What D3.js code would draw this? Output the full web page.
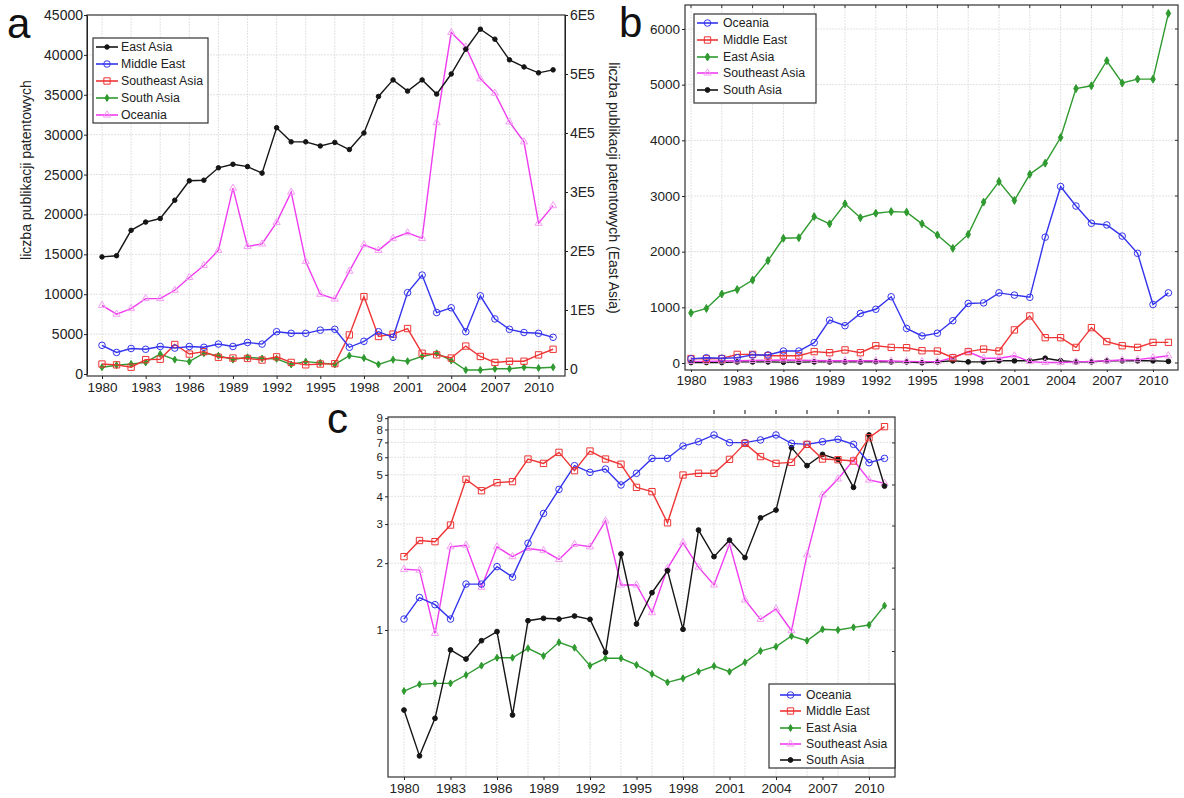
<!DOCTYPE html>
<html><head><meta charset="utf-8">
<script src="https://cdn.jsdelivr.net/npm/d3@7"></script>
<style>body{margin:0;background:#fff} svg text{font-family:"Liberation Sans",Arial,sans-serif}</style>
</head><body><svg id="chart" width="1184" height="798"></svg>
<script>
// ---------- DATA ----------
const years = [1980,1981,1982,1983,1984,1985,1986,1987,1988,1989,1990,1991,1992,1993,1994,1995,
               1996,1997,1998,1999,2000,2001,2002,2003,2004,2005,2006,2007,2008,2009,2010,2011];
const xTickYears = [1980,1983,1986,1989,1992,1995,1998,2001,2004,2007,2010];
const gridYears = [1980,1982,1984,1986,1988,1990,1992,1994,1996,1998,2000,2002,2004,2006,2008,2010];

// panel a (East Asia on the right axis)
const aEastAsia = [190000,192000,235000,249000,255000,286000,319000,320000,341000,347000,343000,332000,
                   409000,385000,385000,378000,384000,372000,400000,462000,490000,471000,490000,466000,
                   500000,542000,576000,559000,524000,512000,502000,507000];
const aMiddleEast = [3600,2700,3200,3100,3450,3250,3450,3350,3750,3450,3950,3750,
                     5300,5100,5100,5500,5600,3350,4100,5300,4600,10200,12400,7700,
                     8300,5300,9800,6900,5600,5200,5100,4600];
const aSoutheastAsia = [1250,1150,850,1800,1850,3700,2500,2800,2100,2000,1950,1750,
                        2150,1450,1150,1250,1300,4900,9700,4700,5000,5700,2600,2400,
                        2000,3500,2200,1450,1600,1600,2400,3100];
const aSouthAsia = [850,1100,1250,1450,2500,1800,1550,2600,2300,1800,2100,1950,
                    1900,1200,1550,1400,1200,2300,2000,1200,1800,1600,2200,2600,
                    1700,500,500,650,650,850,750,850];
const aOceania = [8600,7500,8200,9450,9450,10500,12100,13600,15500,23300,16000,16300,
                  19000,22800,14100,10000,9400,12900,16200,15500,17000,17700,17000,31500,
                  42800,41000,37000,35200,31600,29100,18900,21100];
const aLeftTicks = [0,5000,10000,15000,20000,25000,30000,35000,40000,45000];
const aRightTicks = [0,100000,200000,300000,400000,500000,600000];

// panel b
const bOceania = [75,95,85,95,145,145,215,215,365,770,670,890,965,1190,620,485,
                  535,760,1070,1080,1260,1220,1180,2260,3170,2820,2510,2480,2280,1970,1050,1260];
const bMiddleEast = [80,75,80,155,155,130,130,130,205,185,235,185,310,280,275,220,
                     215,95,205,250,215,595,845,455,455,280,635,385,310,280,370,370];
const bEastAsia = [900,980,1240,1320,1490,1840,2240,2250,2630,2500,2860,2610,2690,2720,2710,2500,
                   2300,2060,2310,2890,3260,2920,3390,3590,4050,4930,4980,5430,5030,5100,5100,6280];
const bSoutheastAsia = [30,30,35,40,45,50,55,50,45,40,40,40,40,35,30,25,
                        25,95,200,85,85,130,25,10,10,20,30,40,55,60,95,130];
const bSouthAsia = [10,10,10,20,20,20,15,15,20,20,20,20,25,20,20,5,
                    20,40,20,20,40,40,40,85,40,20,20,40,40,40,40,30];
const bTicks = [0,1000,2000,3000,4000,5000,6000];

// panel c (log scale)
const cOceania = [1.12,1.40,1.30,1.12,1.61,1.61,1.93,1.73,2.46,3.35,4.30,5.50,5.13,5.31,4.50,5.08,
                  5.93,5.93,6.74,7.05,7.56,6.98,6.98,7.18,7.56,6.93,6.86,7.05,7.23,6.86,5.67,5.93];
const cMiddleEast = [2.14,2.53,2.50,2.97,4.77,4.24,4.61,4.66,5.89,5.63,6.31,5.22,6.40,5.89,5.58,4.39,
                     4.20,3.04,4.99,5.08,5.08,5.87,6.93,6.04,5.63,5.69,6.86,5.89,5.85,5.77,7.35,8.24];
const cEastAsia = [0.531,0.569,0.575,0.575,0.627,0.691,0.750,0.750,0.827,0.764,0.880,0.832,0.691,0.746,0.746,0.696,
                   0.634,0.581,0.606,0.649,0.688,0.649,0.715,0.804,0.841,0.940,0.895,1.007,1.0,1.028,1.053,1.287];
const cSoutheastAsia = [1.877,1.86,0.966,2.37,2.41,1.557,2.37,2.14,2.33,2.28,2.08,2.43,2.37,3.10,1.595,1.595,
                        1.197,1.896,2.47,1.92,1.595,2.44,1.365,1.117,1.243,0.993,2.18,4.06,4.79,5.83,4.74,4.58];
const cSouthAsia = [0.436,0.271,0.400,0.813,0.740,0.895,0.983,0.414,1.101,1.129,1.12,1.156,1.117,0.793,2.20,1.064,
                    1.472,1.85,1.007,2.82,2.14,2.54,2.12,3.20,3.47,6.63,5.50,6.18,5.87,4.39,7.56,4.45];
const cTicks = [1,2,3,4,5,6,7,8,9];
const cRightMinorTicks = [6.96,4.5,2.94,1.9,1.24,0.80,0.52,0.34];
const cTopTickYears = [2000,2002,2004,2006,2008,2010];

// ---------- STYLES ----------
const BLACK="#151515", BLUE="#3434ee", RED="#ee3434", GREEN="#2f9a2f", MAGENTA="#f03cf0";
const svg = d3.select("#chart");
const GRID = "#dadada";

function styleAxis(g, fs){
  g.attr("font-family", null).attr("font-size", null);
  g.selectAll("text").attr("font-size", fs).attr("fill","#222");
  g.select(".domain").attr("stroke","#222");
  g.selectAll(".tick line").attr("stroke","#222");
}
function gridX(g, x, vals, y0, y1){
  g.append("g").selectAll("line").data(vals).join("line")
    .attr("x1",d=>x(d)).attr("x2",d=>x(d)).attr("y1",y0).attr("y2",y1)
    .attr("stroke",GRID).attr("stroke-width",0.8).attr("stroke-dasharray","2,1");
}
function gridY(g, y, vals, x0, x1){
  g.append("g").selectAll("line").data(vals).join("line")
    .attr("y1",d=>y(d)).attr("y2",d=>y(d)).attr("x1",x0).attr("x2",x1)
    .attr("stroke",GRID).attr("stroke-width",0.8).attr("stroke-dasharray","2,1");
}
function drawMarker(sel, st){
  sel.attr("d", d3.symbol().type(st.type).size(st.size))
     .attr("fill", st.filled ? (st.mcolor||st.color) : "none")
     .attr("stroke", st.mcolor||st.color).attr("stroke-width",1);
}
function series(g, vals, x, y, st){
  const line = d3.line().x((d,i)=>x(years[i])).y(d=>y(d));
  g.append("path").datum(vals).attr("d",line).attr("fill","none")
    .attr("stroke",st.color).attr("stroke-width",1.4);
  g.append("g").selectAll("path").data(vals).join("path")
    .attr("transform",(d,i)=>`translate(${x(years[i])},${y(d)})`)
    .call(drawMarker, st);
}
function legend(g, x, y, w, h, rowY, sx0, sx1, tx, fs, items){
  const lg = g.append("g");
  lg.append("rect").attr("x",x).attr("y",y).attr("width",w).attr("height",h)
    .attr("fill","#fff").attr("stroke","#333").attr("stroke-width",1.2);
  items.forEach((it,i)=>{
    const yy = rowY[i];
    lg.append("line").attr("x1",sx0).attr("x2",sx1).attr("y1",yy).attr("y2",yy)
      .attr("stroke",it.st.color).attr("stroke-width",1.6);
    lg.append("path").attr("transform",`translate(${(sx0+sx1)/2},${yy})`).call(drawMarker,it.st);
    lg.append("text").attr("x",tx).attr("y",yy).attr("dy","0.36em")
      .attr("font-size",fs).attr("fill","#222").text(it.name);
  });
}

// ---------- PANEL A ----------
(function(){
  const L=87, R=565, T=15, B=376;
  const g = svg.append("g");
  const x = d3.scaleLinear().domain([1980,2011]).range([102,553.1]);
  const yL = d3.scaleLinear().domain([0,45000]).range([374,15]);
  const yR = d3.scaleLinear().domain([0,600000]).range([369,15]);
  gridX(g, x, gridYears, T, B);
  gridY(g, yL, aLeftTicks.slice(1,-1), L, R);
  g.append("rect").attr("x",L).attr("y",T).attr("width",R-L).attr("height",B-T)
    .attr("fill","none").attr("stroke","#333").attr("stroke-width",1.2);

  const stEA={color:BLACK,type:d3.symbolCircle,size:16,filled:true};
  const stME={color:BLUE,type:d3.symbolCircle,size:34,filled:false};
  const stSEA={color:RED,type:d3.symbolSquare,size:40,filled:false};
  const stSA={color:GREEN,type:d3.symbolDiamond,size:14,filled:true};
  const stOC={color:MAGENTA,mcolor:"#f49ef4",type:d3.symbolTriangle,size:22,filled:false};

  series(g, aOceania, x, yL, stOC);
  series(g, aSouthAsia, x, yL, stSA);
  series(g, aSoutheastAsia, x, yL, stSEA);
  series(g, aMiddleEast, x, yL, stME);
  series(g, aEastAsia, x, yR, stEA);

  g.append("g").attr("transform",`translate(${L},0)`)
    .call(d3.axisLeft(yL).tickValues(aLeftTicks).tickFormat(d3.format("d")).tickSize(3).tickPadding(1).tickSizeOuter(0))
    .call(a=>styleAxis(a,14));
  g.append("g").attr("transform",`translate(${R},0)`)
    .call(d3.axisRight(yR).tickValues(aRightTicks).tickFormat(d=>d===0?"0":(d/100000)+"E5").tickSize(3).tickPadding(2).tickSizeOuter(0))
    .call(a=>styleAxis(a,14));
  g.append("g").attr("transform",`translate(0,${B})`)
    .call(d3.axisBottom(x).tickValues(xTickYears).tickFormat(d3.format("d")).tickSize(3).tickPadding(3).tickSizeOuter(0))
    .call(a=>{styleAxis(a,13.5); a.select(".domain").remove();});

  g.append("text").attr("transform","translate(31,170) rotate(-90)").attr("text-anchor","middle")
    .attr("font-size",14).attr("fill","#222").text("liczba publikacji patentowych");
  g.append("text").attr("transform","translate(609,188) rotate(90)").attr("text-anchor","middle")
    .attr("font-size",14).attr("fill","#222").text("liczba publikacji patentowych (East Asia)");
  g.append("text").attr("x",7).attr("y",38).attr("font-size",42).attr("fill","#111").text("a");

  legend(g, 93, 38, 115, 85, [47,64,81,98,115], 96, 118, 121, 12.3, [
    {name:"East Asia",st:stEA},{name:"Middle East",st:stME},{name:"Southeast Asia",st:stSEA},
    {name:"South Asia",st:stSA},{name:"Oceania",st:stOC}]);
})();

// ---------- PANEL B ----------
(function(){
  const L=685, R=1178, T=5, B=370;
  const g = svg.append("g");
  const x = d3.scaleLinear().domain([1980,2011]).range([691,1168.4]);
  const y = d3.scaleLinear().domain([0,6000]).range([363,29]);
  gridX(g, x, gridYears, T, B);
  gridY(g, y, bTicks, L, R);
  g.append("rect").attr("x",L).attr("y",T).attr("width",R-L).attr("height",B-T)
    .attr("fill","none").attr("stroke","#333").attr("stroke-width",1.2);
  g.append("g").selectAll("line").data(gridYears).join("line")
    .attr("x1",d=>x(d)).attr("x2",d=>x(d)).attr("y1",T).attr("y2",T+3).attr("stroke","#333");
  g.append("g").selectAll("line").data(bTicks).join("line")
    .attr("y1",d=>y(d)).attr("y2",d=>y(d)).attr("x1",R-3).attr("x2",R).attr("stroke","#333");

  const stOC={color:BLUE,type:d3.symbolCircle,size:34,filled:false};
  const stME={color:RED,type:d3.symbolSquare,size:40,filled:false};
  const stEA={color:GREEN,type:d3.symbolDiamond,size:18,filled:true};
  const stSEA={color:MAGENTA,mcolor:"#f49ef4",type:d3.symbolTriangle,size:22,filled:false};
  const stSA={color:BLACK,type:d3.symbolCircle,size:18,filled:true};

  series(g, bSouthAsia, x, y, stSA);
  series(g, bSoutheastAsia, x, y, stSEA);
  series(g, bMiddleEast, x, y, stME);
  series(g, bOceania, x, y, stOC);
  series(g, bEastAsia, x, y, stEA);

  g.append("g").attr("transform",`translate(${L},0)`)
    .call(d3.axisLeft(y).tickValues(bTicks).tickFormat(d3.format("d")).tickSize(3).tickPadding(2).tickSizeOuter(0))
    .call(a=>{styleAxis(a,13.5); a.select(".domain").remove();});
  g.append("g").attr("transform",`translate(0,${B})`)
    .call(d3.axisBottom(x).tickValues(xTickYears).tickFormat(d3.format("d")).tickSize(2).tickPadding(3).tickSizeOuter(0))
    .call(a=>{styleAxis(a,13.5); a.select(".domain").remove();});
  g.append("text").attr("x",619).attr("y",37).attr("font-size",42).attr("fill","#111").text("b");

  legend(g, 694, 14, 122, 89, [23,40,57,73,90], 697, 718, 723, 12.3, [
    {name:"Oceania",st:stOC},{name:"Middle East",st:stME},{name:"East Asia",st:stEA},
    {name:"Southeast Asia",st:stSEA},{name:"South Asia",st:stSA}]);
})();

// ---------- PANEL C ----------
(function(){
  const L=388, R=895, T=417, B=777;
  const g = svg.append("g");
  const x = d3.scaleLinear().domain([1980,2011]).range([404,884.5]);
  const y = d3.scaleLog().domain([1,10]).range([630,408]);
  gridX(g, x, gridYears, T, B);
  gridY(g, y, cTicks, L, R);
  g.append("rect").attr("x",L).attr("y",T).attr("width",R-L).attr("height",B-T)
    .attr("fill","none").attr("stroke","#333").attr("stroke-width",1.2);
  g.append("g").selectAll("line").data(cRightMinorTicks).join("line")
    .attr("y1",d=>y(d)).attr("y2",d=>y(d)).attr("x1",R-3).attr("x2",R).attr("stroke","#333");
  g.append("g").selectAll("line").data(cTopTickYears).join("line")
    .attr("x1",d=>x(d)).attr("x2",d=>x(d)).attr("y1",410).attr("y2",414).attr("stroke","#333").attr("stroke-width",1.2);

  const stOC={color:BLUE,type:d3.symbolCircle,size:34,filled:false};
  const stME={color:RED,type:d3.symbolSquare,size:40,filled:false};
  const stEA={color:GREEN,type:d3.symbolDiamond,size:14,filled:true};
  const stSEA={color:MAGENTA,mcolor:"#f49ef4",type:d3.symbolTriangle,size:22,filled:false};
  const stSA={color:BLACK,type:d3.symbolCircle,size:18,filled:true};

  series(g, cEastAsia, x, y, stEA);
  series(g, cSoutheastAsia, x, y, stSEA);
  series(g, cSouthAsia, x, y, stSA);
  series(g, cOceania, x, y, stOC);
  series(g, cMiddleEast, x, y, stME);

  g.append("g").attr("transform",`translate(${L},0)`)
    .call(d3.axisLeft(y).tickValues(cTicks).tickFormat(d3.format("d")).tickSize(3).tickPadding(2).tickSizeOuter(0))
    .call(a=>{styleAxis(a,11.5); a.select(".domain").remove();});
  g.append("g").attr("transform",`translate(0,${B})`)
    .call(d3.axisBottom(x).tickValues(xTickYears).tickFormat(d3.format("d")).tickSize(3).tickPadding(3).tickSizeOuter(0))
    .call(a=>{styleAxis(a,13.5); a.select(".domain").remove();});
  g.append("text").attr("x",327).attr("y",433).attr("font-size",42).attr("fill","#111").text("c");

  legend(g, 769, 684, 126, 84, [695,711,728,744,760], 780, 801, 806, 12.2, [
    {name:"Oceania",st:stOC},{name:"Middle East",st:stME},{name:"East Asia",st:stEA},
    {name:"Southeast Asia",st:stSEA},{name:"South Asia",st:stSA}]);
})();
</script></body></html>
